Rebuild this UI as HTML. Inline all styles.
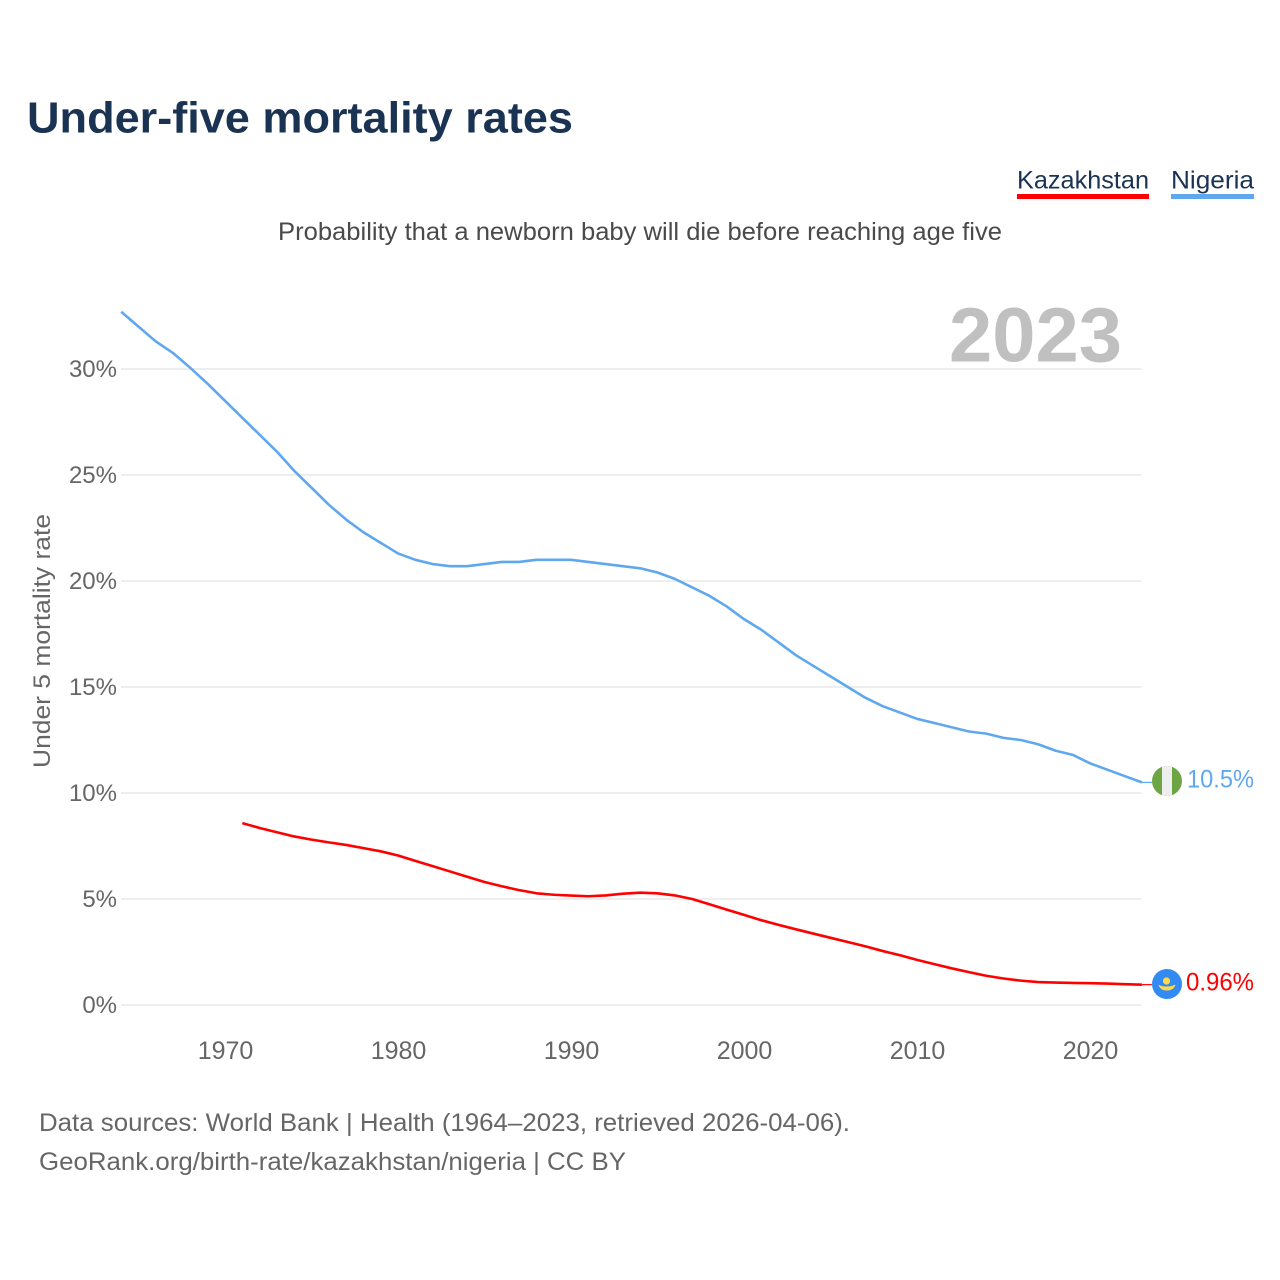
<!DOCTYPE html>
<html lang="en">
<head>
<meta charset="utf-8">
<title>Under-five mortality rates</title>
<style>
html,body{margin:0;padding:0;background:#fff;width:1280px;height:1280px;overflow:hidden}
svg{display:block}
text{font-family:"Liberation Sans",sans-serif}
</style>
</head>
<body>
<svg id="chart" xmlns="http://www.w3.org/2000/svg" width="1280" height="1280" viewBox="0 0 1280 1280">
  <rect x="0" y="0" width="1280" height="1280" fill="#ffffff"/>
  <text x="27" y="132.500" font-size="44" font-weight="700" fill="#1a3353" textLength="546" lengthAdjust="spacingAndGlyphs">Under-five mortality rates</text>

  <g>
    <g>
      <text x="1017" y="188.500" font-size="25" fill="#1a3353" textLength="132" lengthAdjust="spacingAndGlyphs">Kazakhstan</text>
      <rect x="1017" y="194" width="132" height="5" fill="#ff0000"/>
    </g>
    <g>
      <text x="1171" y="188.500" font-size="25" fill="#1a3353" textLength="83" lengthAdjust="spacingAndGlyphs">Nigeria</text>
      <rect x="1171" y="194" width="83" height="5" fill="#60a8ee"/>
    </g>
  </g>

  <text x="278" y="240" font-size="25" fill="#4a4a4a" textLength="724" lengthAdjust="spacingAndGlyphs">Probability that a newborn baby will die before reaching age five</text>

  <g id="grid"></g>

  <text x="949" y="361.500" font-size="77" font-weight="700" fill="#c0c0c0" textLength="173" lengthAdjust="spacingAndGlyphs">2023</text>

  <g id="yticks"></g>
  <g id="xticks"></g>
  <text transform="translate(50,641) rotate(-90)" text-anchor="middle" font-size="24" fill="#666666" textLength="254" lengthAdjust="spacingAndGlyphs">Under 5 mortality rate</text>

  <g id="series"></g>

  <g>
    <clipPath id="clip-ng"><circle cx="1167" cy="781" r="15"/></clipPath>
    <g clip-path="url(#clip-ng)">
      <rect x="1152" y="766" width="30" height="30" fill="#6da544"/>
      <rect x="1162" y="766" width="10" height="30" fill="#eeeeee"/>
    </g>
  </g>
  <g>
    <circle cx="1167" cy="984" r="15" fill="#338af3"/>
    <circle cx="1166.500" cy="981" r="3.600" fill="#ffda44"/>
    <path d="M1158.500 984.500 Q1161 986.500 1166.500 986.500 Q1172 986.500 1175.500 984.500 Q1174 990.500 1166.500 990.500 Q1160 990.500 1158.500 984.500 Z" fill="#ffda44"/>
  </g>

  <text x="1187" y="787.500" font-size="25" fill="#60a8ee" textLength="67" lengthAdjust="spacingAndGlyphs">10.5%</text>
  <text x="1186" y="990.500" font-size="25" fill="#ff0000" textLength="68" lengthAdjust="spacingAndGlyphs">0.96%</text>

  <text x="39" y="1131" font-size="25" fill="#666666" textLength="811" lengthAdjust="spacingAndGlyphs">Data sources: World Bank | Health (1964–2023, retrieved 2026-04-06).</text>
  <text x="39" y="1170" font-size="25" fill="#666666" textLength="587" lengthAdjust="spacingAndGlyphs">GeoRank.org/birth-rate/kazakhstan/nigeria | CC BY</text>
</svg>
<script>
const yearsNigeria = [1964,1965,1966,1967,1968,1969,1970,1971,1972,1973,1974,1975,1976,1977,1978,1979,1980,1981,1982,1983,1984,1985,1986,1987,1988,1989,1990,1991,1992,1993,1994,1995,1996,1997,1998,1999,2000,2001,2002,2003,2004,2005,2006,2007,2008,2009,2010,2011,2012,2013,2014,2015,2016,2017,2018,2019,2020,2021,2022,2023];
const valuesNigeria = [32.7,32.0,31.3,30.75,30.05,29.3,28.5,27.7,26.9,26.1,25.2,24.4,23.6,22.9,22.3,21.8,21.3,21.0,20.8,20.7,20.7,20.8,20.9,20.9,21.0,21.0,21.0,20.9,20.8,20.7,20.6,20.4,20.1,19.7,19.3,18.8,18.2,17.7,17.1,16.5,16.0,15.5,15.0,14.5,14.1,13.8,13.5,13.3,13.1,12.9,12.8,12.6,12.5,12.3,12.0,11.8,11.4,11.1,10.8,10.5];
const yearsKazakhstan = [1971,1972,1973,1974,1975,1976,1977,1978,1979,1980,1981,1982,1983,1984,1985,1986,1987,1988,1989,1990,1991,1992,1993,1994,1995,1996,1997,1998,1999,2000,2001,2002,2003,2004,2005,2006,2007,2008,2009,2010,2011,2012,2013,2014,2015,2016,2017,2018,2019,2020,2021,2022,2023];
const valuesKazakhstan = [8.58,8.35,8.15,7.95,7.8,7.67,7.55,7.4,7.25,7.05,6.8,6.55,6.3,6.05,5.8,5.6,5.42,5.27,5.2,5.16,5.13,5.17,5.25,5.3,5.27,5.17,5.0,4.75,4.5,4.25,4.0,3.78,3.57,3.37,3.17,2.97,2.77,2.55,2.35,2.13,1.93,1.73,1.55,1.38,1.25,1.15,1.08,1.06,1.04,1.03,1.01,0.98,0.96];
const yTickValues = [0,5,10,15,20,25,30];
const yTickLabels = ["0%","5%","10%","15%","20%","25%","30%"];
const xTickValues = [1970,1980,1990,2000,2010,2020];
const xTickLabels = ["1970","1980","1990","2000","2010","2020"];

const NS = 'http://www.w3.org/2000/svg';
function xScale(year){ return 225 + (year - 1970) * 17.3; }
function yScale(v){ return 1005 - v * 21.2; }
function make(tag, attrs, parent){
  const el = document.createElementNS(NS, tag);
  Object.keys(attrs).forEach(function(k){ el.setAttribute(k, attrs[k]); });
  parent.appendChild(el);
  return el;
}
const gridGroup = document.getElementById('grid');
const yGroup = document.getElementById('yticks');
const xGroup = document.getElementById('xticks');
const seriesGroup = document.getElementById('series');

yTickValues.forEach(function(v, i){
  const line = make('line', {x1:121, x2:1141.500, y1:yScale(v), y2:yScale(v), stroke:'#eeeeee', 'stroke-width':2}, gridGroup);
  
  
  const t = make('text', {x:117, y:yScale(v)+8, 'text-anchor':'end', 'font-size':24, fill:'#666666'}, yGroup);
  
  
  t.textContent = yTickLabels[i];
});
xTickValues.forEach(function(v, i){
  const t = make('text', {x:xScale(v)+0.5, y:1059, 'text-anchor':'middle', 'font-size':25, fill:'#666666'}, xGroup);
  
  
  t.textContent = xTickLabels[i];
});
function drawSeries(years, values, color, name){
  const pts = years.map(function(y, i){ return xScale(y).toFixed(2) + ',' + yScale(values[i]).toFixed(2); }).join(' ');
  const line = make('polyline', {points:pts, fill:'none', stroke:color, 'stroke-width':2.600, 'stroke-linejoin':'round', 'stroke-linecap':'butt'}, seriesGroup);
  
  
  const lastX = xScale(years[years.length-1]);
  const lastY = yScale(values[values.length-1]);
  const leader = make('line', {x1:lastX, x2:lastX+10, y1:lastY, y2:lastY, stroke:color, 'stroke-width':1.2}, seriesGroup);
  
  
}
drawSeries(yearsNigeria, valuesNigeria, '#60a8ee', 'nigeria-line');
drawSeries(yearsKazakhstan, valuesKazakhstan, '#ff0000', 'kazakhstan-line');
</script>
</body>
</html>
